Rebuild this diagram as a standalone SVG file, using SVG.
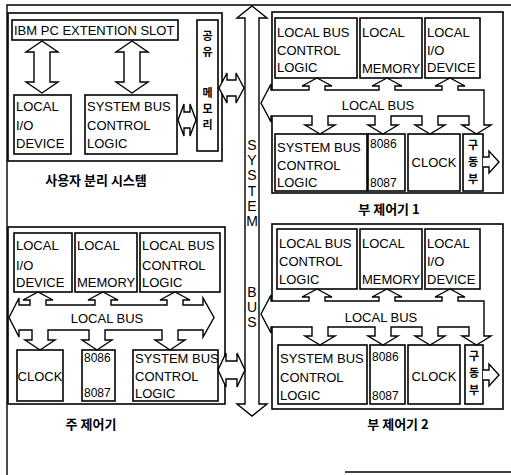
<svg xmlns="http://www.w3.org/2000/svg" width="511" height="475" viewBox="0 0 511 475">
<style>
.b{fill:#fff;stroke:#000;stroke-width:1.6}
.c{fill:#fff;stroke:#000;stroke-width:1.4;stroke-linejoin:miter}
.f{fill:none;stroke:#000;stroke-width:1.4}
.t{font-family:"Liberation Sans",Arial,sans-serif;font-size:13px;fill:#000}
.n{font-family:"Liberation Sans",Arial,sans-serif;font-size:12px;fill:#000}
.s{font-family:"Liberation Sans",Arial,sans-serif;font-size:14px;fill:#000;text-anchor:middle}
.k{font-family:"Noto Sans CJK KR","Noto Sans CJK SC",sans-serif;font-size:13px;font-weight:bold;fill:#000;text-anchor:middle}
.kv{font-family:"Noto Sans CJK KR","Noto Sans CJK SC",sans-serif;font-size:11px;font-weight:bold;fill:#000;text-anchor:middle}
.m{text-anchor:middle}
</style>
<rect width="511" height="475" fill="#fff"/>
<g id="frame">
<path class="f" d="M7,475 V5 H511"/>
<path class="f" d="M345,472 H511" stroke-width="1"/>
</g>

<!-- top-left: user system -->
<g id="user-system">
<rect class="b" x="8" y="13" width="214" height="148"/>
<text class="k" x="96" y="185" font-size="14">사용자 분리 시스템</text>
</g>
<g id="ibm-slot">
<rect class="b" x="12" y="20" width="166" height="20"/>
<text class="t" x="14" y="35">IBM PC EXTENTION SLOT</text>
</g>
<g id="shared-memory">
<rect class="b" x="197" y="20" width="21" height="131"/>
<text class="kv"><tspan x="207.5" y="40">공</tspan><tspan x="207.5" y="56">유</tspan><tspan x="207.5" y="97">메</tspan><tspan x="207.5" y="113">모</tspan><tspan x="207.5" y="129">리</tspan></text>
</g>
<g id="tl-local-io">
<rect class="b" x="14" y="95" width="57" height="59"/>
<text class="t" x="16" y="111">LOCAL</text>
<text class="t" x="16" y="130">I/O</text>
<text class="t" x="16" y="148">DEVICE</text>
</g>
<g id="tl-sbcl">
<rect class="b" x="85" y="95" width="92" height="59"/>
<text class="t" x="87" y="111">SYSTEM BUS</text>
<text class="t" x="87" y="130">CONTROL</text>
<text class="t" x="87" y="148">LOGIC</text>
</g>

<!-- top-right: sub controller 1 -->
<g id="sub1">
<rect class="b" x="272" y="12" width="231" height="181"/>
<text class="k" x="389" y="214">부 제어기 1</text>
</g>
<g id="sub1-lbcl">
<rect class="b" x="275" y="18" width="82" height="60"/>
<text class="t" x="277" y="37">LOCAL BUS</text>
<text class="t" x="277" y="55">CONTROL</text>
<text class="t" x="277" y="72">LOGIC</text>
</g>
<g id="sub1-memory">
<rect class="b" x="360" y="18" width="62" height="60"/>
<text class="t" x="362" y="37">LOCAL</text>
<text class="t" x="362" y="73">MEMORY</text>
</g>
<g id="sub1-io">
<rect class="b" x="425" y="18" width="55" height="60"/>
<text class="t" x="427" y="37">LOCAL</text>
<text class="t" x="427" y="55">I/O</text>
<text class="t" x="427" y="72">DEVICE</text>
</g>
<g id="sub1-sbcl">
<rect class="b" x="275" y="134" width="92" height="57"/>
<text class="t" x="277" y="152">SYSTEM BUS</text>
<text class="t" x="277" y="170">CONTROL</text>
<text class="t" x="277" y="187">LOGIC</text>
</g>
<g id="sub1-cpu">
<rect class="b" x="368" y="134" width="37" height="57"/>
<text class="n" x="370" y="148">8086</text>
<text class="n" x="370" y="187">8087</text>
</g>
<g id="sub1-clock">
<rect class="b" x="408" y="134" width="52" height="57"/>
<text class="t m" x="434" y="167">CLOCK</text>
</g>
<g id="sub1-driver">
<rect class="b" x="463" y="134" width="20" height="57"/>
<text class="kv"><tspan x="473" y="149">구</tspan><tspan x="473" y="166">동</tspan><tspan x="473" y="183">부</tspan></text>
</g>

<!-- bottom-left: main controller -->
<g id="main">
<rect class="b" x="8" y="227" width="217" height="177"/>
<text class="k" x="91" y="429">주 제어기</text>
</g>
<g id="main-io">
<rect class="b" x="14" y="233" width="58" height="59"/>
<text class="t" x="16" y="250">LOCAL</text>
<text class="t" x="16" y="270">I/O</text>
<text class="t" x="16" y="287">DEVICE</text>
</g>
<g id="main-memory">
<rect class="b" x="75" y="233" width="62" height="59"/>
<text class="t" x="77" y="250">LOCAL</text>
<text class="t" x="77" y="287">MEMORY</text>
</g>
<g id="main-lbcl">
<rect class="b" x="140" y="233" width="80" height="59"/>
<text class="t" x="142" y="250">LOCAL BUS</text>
<text class="t" x="142" y="270">CONTROL</text>
<text class="t" x="142" y="287">LOGIC</text>
</g>
<g id="main-clock">
<rect class="b" x="17" y="350" width="46" height="51"/>
<text class="t m" x="40" y="381">CLOCK</text>
</g>
<g id="main-cpu">
<rect class="b" x="82" y="350" width="33" height="51"/>
<text class="n" x="84" y="362">8086</text>
<text class="n" x="84" y="397">8087</text>
</g>
<g id="main-sbcl">
<rect class="b" x="133" y="350" width="85" height="51"/>
<text class="t" x="135" y="363">SYSTEM BUS</text>
<text class="t" x="135" y="381">CONTROL</text>
<text class="t" x="135" y="398">LOGIC</text>
</g>

<!-- bottom-right: sub controller 2 -->
<g id="sub2">
<rect class="b" x="272" y="224" width="231" height="185"/>
<text class="k" x="398" y="429">부 제어기 2</text>
</g>
<g id="sub2-lbcl">
<rect class="b" x="277" y="229" width="80" height="60"/>
<text class="t" x="279" y="248">LOCAL BUS</text>
<text class="t" x="279" y="266">CONTROL</text>
<text class="t" x="279" y="284">LOGIC</text>
</g>
<g id="sub2-memory">
<rect class="b" x="360" y="229" width="62" height="60"/>
<text class="t" x="362" y="248">LOCAL</text>
<text class="t" x="362" y="284">MEMORY</text>
</g>
<g id="sub2-io">
<rect class="b" x="425" y="229" width="55" height="60"/>
<text class="t" x="427" y="248">LOCAL</text>
<text class="t" x="427" y="266">I/O</text>
<text class="t" x="427" y="284">DEVICE</text>
</g>
<g id="sub2-sbcl">
<rect class="b" x="278" y="345" width="89" height="59"/>
<text class="t" x="280" y="363">SYSTEM BUS</text>
<text class="t" x="280" y="382">CONTROL</text>
<text class="t" x="280" y="400">LOGIC</text>
</g>
<g id="sub2-cpu">
<rect class="b" x="370" y="345" width="35" height="59"/>
<text class="n" x="372" y="361">8086</text>
<text class="n" x="372" y="400">8087</text>
</g>
<g id="sub2-clock">
<rect class="b" x="408" y="345" width="52" height="59"/>
<text class="t m" x="434" y="381">CLOCK</text>
</g>
<g id="sub2-driver">
<rect class="b" x="465" y="345" width="18" height="59"/>
<text class="kv"><tspan x="474" y="360">구</tspan><tspan x="474" y="377">동</tspan><tspan x="474" y="394">부</tspan></text>
</g>

<!-- connectors -->
<g id="connectors">
<path class="c" d="M252,6 L267,18 L259,18 L259,404 L267,404 L252,416 L237,404 L245,404 L245,18 L237,18 Z"/>
<path class="c" d="M42,41 L58,52 L50,52 L50,82 L58,82 L42,93 L26,82 L34,82 L34,52 L26,52 Z"/>
<path class="c" d="M132,41 L148,52 L140,52 L140,82 L148,82 L132,93 L116,82 L124,82 L124,52 L116,52 Z"/>
<path class="c" d="M178,120 L184,104 L184,112 L190,112 L190,104 L196,120 L190,136 L190,128 L184,128 L184,136 Z"/>
<path class="c" d="M219,88 L227,73 L227,80 L236,80 L236,73 L244,88 L236,103 L236,96 L227,96 L227,103 Z"/>
<path class="c" d="M218,370 L226,353 L226,361 L237,361 L237,353 L245,370 L237,387 L237,379 L226,379 L226,387 Z"/>
<path class="c" d="M261,103 L271,84 L271,90 L309,90 L309,86 L302,86 L317,78 L332,86 L325,86 L325,90 L379,90 L379,86 L372,86 L387,78 L402,86 L395,86 L395,90 L442,90 L442,86 L435,86 L450,78 L465,86 L458,86 L458,90 L484,90 L484,125 L491,125 L476.5,134 L462,125 L469,125 L469,116 L438,116 L438,125 L445,125 L430,134 L415,125 L422,125 L422,116 L391,116 L391,125 L398,125 L383,134 L368,125 L375,125 L375,116 L328,116 L328,125 L335,125 L320,134 L305,125 L312,125 L312,116 L271,116 L271,122 Z"/>
<text class="t m" x="378" y="110">LOCAL BUS</text>
<path class="c" d="M483,157 L489,157 L489,151 L499,162 L489,173 L489,167 L483,167"/>
<path class="c" transform="translate(0,211)" d="M261,103 L271,84 L271,90 L309,90 L309,86 L302,86 L317,78 L332,86 L325,86 L325,90 L379,90 L379,86 L372,86 L387,78 L402,86 L395,86 L395,90 L442,90 L442,86 L435,86 L450,78 L465,86 L458,86 L458,90 L484,90 L484,125 L491,125 L476.5,134 L462,125 L469,125 L469,116 L438,116 L438,125 L445,125 L430,134 L415,125 L422,125 L422,116 L391,116 L391,125 L398,125 L383,134 L368,125 L375,125 L375,116 L328,116 L328,125 L335,125 L320,134 L305,125 L312,125 L312,116 L271,116 L271,122 Z"/>
<text class="t m" x="381" y="322">LOCAL BUS</text>
<path class="c" d="M483,370 L489,370 L489,364 L499,375 L489,386 L489,380 L483,380"/>
<path class="c" d="M9,317.5 L19,298 L19,305 L30,305 L30,300 L23,300 L38,292 L53,300 L46,300 L46,305 L95,305 L95,300 L88,300 L103,292 L118,300 L111,300 L111,305 L167,305 L167,300 L160,300 L175,292 L190,300 L183,300 L183,305 L203,305 L203,298 L214,317.5 L203,337 L203,330 L178,330 L178,340 L185,340 L170,350 L155,340 L162,340 L162,330 L105,330 L105,340 L112,340 L97,350 L82,340 L89,340 L89,330 L48,330 L48,340 L55,340 L40,350 L25,340 L32,340 L32,330 L19,330 L19,337 Z"/>
<text class="t m" x="107" y="323">LOCAL BUS</text>
</g>

<g id="system-bus-label">
<text class="s"><tspan x="252" y="150">S</tspan><tspan x="252" y="165">Y</tspan><tspan x="252" y="180">S</tspan><tspan x="252" y="196">T</tspan><tspan x="252" y="211">E</tspan><tspan x="252" y="226">M</tspan><tspan x="252" y="297">B</tspan><tspan x="252" y="312">U</tspan><tspan x="252" y="327">S</tspan></text>
</g>
</svg>
